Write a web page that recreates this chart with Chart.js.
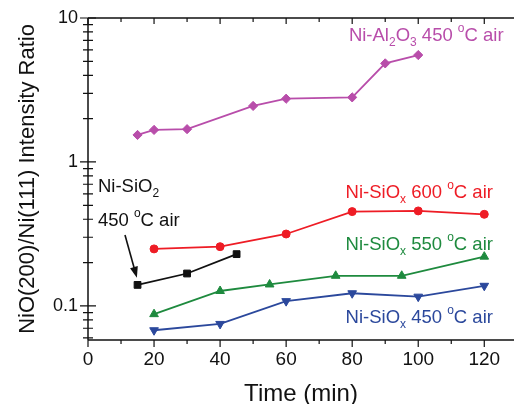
<!DOCTYPE html>
<html>
<head>
<meta charset="utf-8">
<script src="https://cdn.jsdelivr.net/npm/chart.js@4.4.1/dist/chart.umd.min.js"></script>
<style>
  html, body { margin: 0; padding: 0; background: #fff; }
  #wrap { width: 514px; height: 404px; position: relative; }
</style>
</head>
<body>
<div id="wrap"><canvas id="chart"></canvas></div>
<script>
// data (time in min, ratio)
const timeAl = [15, 20, 30, 50, 60, 80, 90, 100];
const ratioAl = [1.54, 1.67, 1.69, 2.45, 2.75, 2.81, 4.84, 5.53];

const time600 = [20, 40, 60, 80, 100, 120];
const ratio600 = [0.249, 0.258, 0.316, 0.452, 0.457, 0.433];

const timeSiO2 = [15, 30, 45];
const ratioSiO2 = [0.140, 0.168, 0.229];

const time550 = [20, 40, 55, 75, 95, 120];
const ratio550 = [0.0877, 0.127, 0.141, 0.162, 0.162, 0.22];

const time450 = [20, 40, 60, 80, 100, 120];
const ratio450 = [0.0678, 0.075, 0.108, 0.1225, 0.116, 0.138];

const xTicks = [0, 20, 40, 60, 80, 100, 120];
const yTicks = [0.1, 1, 10];

const FONT = "'Liberation Sans', Arial, sans-serif";

function pts(xs, ys) {
    return xs.map((x, i) => ({ x: x, y: ys[i] }));
}

// labels placed in data coordinates: [time, ratio, color, runs]
const labels = [
    { x: 79, y: 6.9, color: "#b84daa",
      runs: [["Ni-Al"], ["2", "sub"], ["O"], ["3", "sub"], [" 450 "], ["o", "sup"], ["C air"]] },
    { x: 78, y: 0.562, color: "#ee1c25",
      runs: [["Ni-SiO"], ["x", "sub"], [" 600 "], ["o", "sup"], ["C air"]] },
    { x: 78, y: 0.245, color: "#1e8a3e",
      runs: [["Ni-SiO"], ["x", "sub"], [" 550 "], ["o", "sup"], ["C air"]] },
    { x: 78, y: 0.0766, color: "#2b489c",
      runs: [["Ni-SiO"], ["x", "sub"], [" 450 "], ["o", "sup"], ["C air"]] },
    { x: 3, y: 0.619, color: "#111",
      runs: [["Ni-SiO"], ["2", "sub"]] },
    { x: 3, y: 0.36, color: "#111",
      runs: [["450 "], ["o", "sup"], ["C air"]] },
];
const arrowFrom = { x: 11.2, y: 0.311 };
const arrowTo = { x: 14.8, y: 0.157 };

const decorPlugin = {
    id: "decor",
    afterDatasetsDraw(chart) {
        const ctx = chart.ctx;
        const xs = chart.scales.x;
        const ys = chart.scales.y;
        const a = chart.chartArea;
        ctx.save();
        ctx.strokeStyle = "#111";
        ctx.lineWidth = 1.5;
        // axis lines (left, bottom, top)
        ctx.beginPath();
        ctx.moveTo(a.left, a.top);
        ctx.lineTo(a.left, a.bottom);
        ctx.moveTo(a.left, a.bottom);
        ctx.lineTo(a.right, a.bottom);
        ctx.moveTo(a.left, a.top);
        ctx.lineTo(a.right, a.top);
        ctx.stroke();
        // x ticks
        ctx.lineWidth = 1.2;
        ctx.beginPath();
        for (let v = 0; v <= xs.max; v += 10) {
            const px = xs.getPixelForValue(v);
            const major = v % 20 === 0;
            ctx.moveTo(px, a.bottom);
            ctx.lineTo(px, a.bottom + (major ? 7 : 4));
            ctx.moveTo(px, a.top);
            ctx.lineTo(px, a.top + (major ? 6 : 4));
        }
        // y ticks, crossing the axis
        for (let dec = 0.01; dec <= 10; dec *= 10) {
            for (let m = 1; m <= 9; m++) {
                const v = dec * m;
                if (v < ys.min * 0.999 || v > ys.max * 1.001) continue;
                const py = ys.getPixelForValue(v);
                const len = m === 1 ? 8 : 5;
                ctx.moveTo(a.left - len, py);
                ctx.lineTo(a.left + len, py);
            }
        }
        ctx.stroke();

        // labels with sub/superscripts
        ctx.textBaseline = "alphabetic";
        ctx.textAlign = "left";
        labels.forEach((lb) => {
            let px = xs.getPixelForValue(lb.x);
            const py = ys.getPixelForValue(lb.y);
            ctx.fillStyle = lb.color;
            lb.runs.forEach((r) => {
                let dy = 0;
                if (r[1] === "sub") {
                    ctx.font = "12px " + FONT;
                    dy = 5;
                } else if (r[1] === "sup") {
                    ctx.font = "12px " + FONT;
                    dy = -9;
                } else {
                    ctx.font = "18.5px " + FONT;
                }
                ctx.fillText(r[0], px, py + dy);
                px += ctx.measureText(r[0]).width;
            });
        });

        // arrow
        const x1 = xs.getPixelForValue(arrowFrom.x), y1 = ys.getPixelForValue(arrowFrom.y);
        const x2 = xs.getPixelForValue(arrowTo.x), y2 = ys.getPixelForValue(arrowTo.y);
        const ang = Math.atan2(y2 - y1, x2 - x1);
        ctx.strokeStyle = "#111";
        ctx.fillStyle = "#111";
        ctx.lineWidth = 1.6;
        ctx.beginPath();
        ctx.moveTo(x1, y1);
        ctx.lineTo(x2 - 8 * Math.cos(ang), y2 - 8 * Math.sin(ang));
        ctx.stroke();
        ctx.beginPath();
        ctx.moveTo(x2, y2);
        ctx.lineTo(x2 - 11 * Math.cos(ang) + 4 * Math.sin(ang), y2 - 11 * Math.sin(ang) - 4 * Math.cos(ang));
        ctx.lineTo(x2 - 11 * Math.cos(ang) - 4 * Math.sin(ang), y2 - 11 * Math.sin(ang) + 4 * Math.cos(ang));
        ctx.closePath();
        ctx.fill();
        ctx.restore();
    },
};

function series(data, color, style, radius, rotation) {
    return {
        data: data,
        borderColor: color,
        backgroundColor: color,
        borderWidth: 1.8,
        pointStyle: style,
        pointRadius: radius,
        pointRotation: rotation || 0,
        pointBorderWidth: 1,
        pointBorderColor: color,
        pointBackgroundColor: color,
        tension: 0,
    };
}

new Chart(document.getElementById("chart"), {
    type: "line",
    data: {
        datasets: [
            series(pts(timeAl, ratioAl), "#b84daa", "rectRot", 4.6),
            series(pts(time600, ratio600), "#ee1c25", "circle", 4),
            series(pts(timeSiO2, ratioSiO2), "#111111", "rect", 4.8),
            series(pts(time550, ratio550), "#1e8a3e", "triangle", 5),
            series(pts(time450, ratio450), "#2b489c", "triangle", 5, 180),
        ],
    },
    options: {
        responsive: true,
        maintainAspectRatio: false,
        animation: false,
        layout: { autoPadding: false, padding: { top: 18, right: 0, left: 0, bottom: 0 } },
        plugins: { legend: { display: false }, tooltip: { enabled: false } },
        scales: {
            x: {
                type: "linear",
                min: 0,
                max: 129,
                grid: { display: false },
                border: { display: false },
                afterBuildTicks: (s) => { s.ticks = xTicks.map((v) => ({ value: v })); },
                afterFit: (s) => {
                    s.height = 64;
                    s.paddingLeft = 0;
                    s.paddingRight = 0;
                },
                ticks: {
                    color: "#111",
                    font: { size: 19, family: FONT },
                    padding: 0,
                    maxRotation: 0,
                },
                title: {
                    display: true,
                    text: "Time (min)",
                    color: "#111",
                    font: { size: 24, family: FONT },
                    padding: { top: 0, bottom: -5 },
                },
            },
            y: {
                type: "logarithmic",
                min: 0.058,
                max: 10,
                grid: { display: false },
                border: { display: false },
                afterBuildTicks: (s) => { s.ticks = yTicks.map((v) => ({ value: v })); },
                afterFit: (s) => { s.width = 88; },
                ticks: {
                    color: "#111",
                    font: { size: 18, family: FONT },
                    padding: 2,
                    callback: (v) => String(v),
                },
                title: {
                    display: true,
                    text: "NiO(200)/Ni(111) Intensity Ratio",
                    color: "#111",
                    font: { size: 22, family: FONT },
                    padding: { top: 15, bottom: 4 },
                },
            },
        },
    },
    plugins: [decorPlugin],
});
</script>
</body>
</html>
